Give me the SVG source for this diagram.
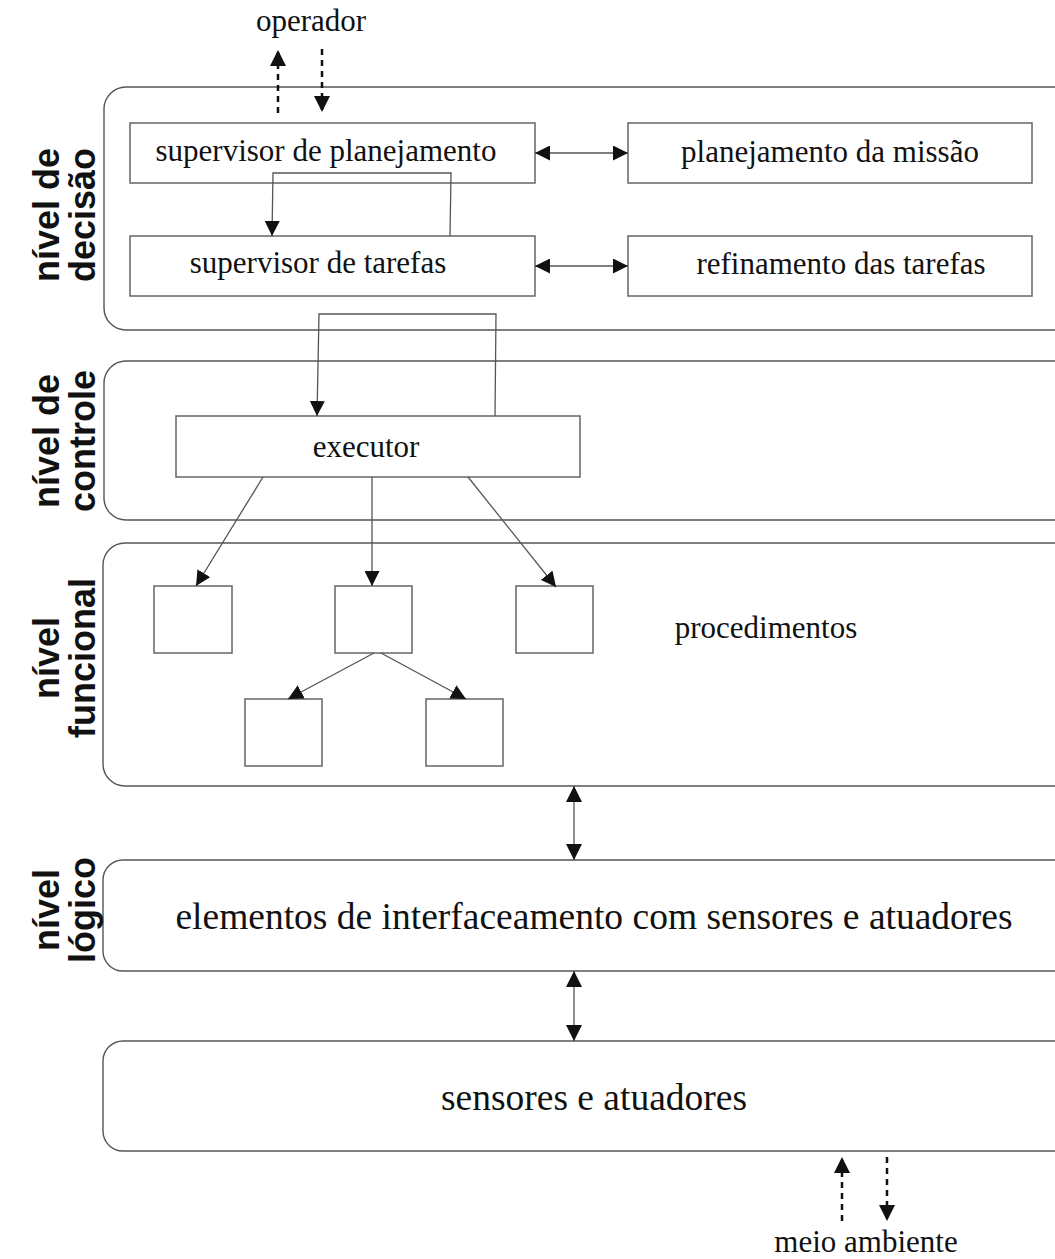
<svg xmlns="http://www.w3.org/2000/svg" width="1055" height="1259" viewBox="0 0 1055 1259">
  <style>
    .panel { fill: none; stroke: #555; stroke-width: 1.4; }
    .box { fill: #fff; stroke: #666; stroke-width: 1.5; }
    .lbl { font-family: "Liberation Serif", "Times New Roman", serif; font-size: 31px; fill: #111; text-anchor: middle; }
    .big { font-size: 37.5px; }
    .lvl { font-family: "Liberation Sans", Arial, sans-serif; font-weight: bold; font-size: 36px; fill: #111; text-anchor: middle; }
    .wire { fill: none; stroke: #555; stroke-width: 1.3; }
    .dash { fill: none; stroke: #111; stroke-width: 2.5; stroke-dasharray: 6 5; }
  </style>
  <defs>
    <marker id="head" viewBox="0 0 15 15" refX="15" refY="7.5" markerWidth="15" markerHeight="15" markerUnits="userSpaceOnUse" orient="auto-start-reverse">
      <path d="M0,0 L15,7.5 L0,15 Z" fill="#111"/>
    </marker>
    <marker id="headL" viewBox="0 0 16 16" refX="16" refY="8" markerWidth="16" markerHeight="16" markerUnits="userSpaceOnUse" orient="auto-start-reverse">
      <path d="M0,0 L16,8 L0,16 Z" fill="#111"/>
    </marker>
    <marker id="headD" viewBox="0 0 16 16" refX="16" refY="8" markerWidth="16" markerHeight="16" markerUnits="userSpaceOnUse" orient="auto">
      <path d="M0,0 L16,8 L0,16 Z" fill="#111"/>
    </marker>
  </defs>

  <rect width="1055" height="1259" fill="#fff"/>

  <!-- level panels -->
  <g id="panel-decisao">
    <rect class="panel" x="104" y="87" width="990" height="243" rx="22"/>
    <text class="lvl" transform="translate(59,215) rotate(-90)"><tspan x="0" y="0">nível de</tspan><tspan x="0" y="36">decisão</tspan></text>
  </g>
  <g id="panel-controle">
    <rect class="panel" x="104" y="361" width="990" height="159" rx="22"/>
    <text class="lvl" transform="translate(59,441) rotate(-90)"><tspan x="0" y="0">nível de</tspan><tspan x="0" y="36">controle</tspan></text>
  </g>
  <g id="panel-funcional">
    <rect class="panel" x="103" y="543" width="990" height="243" rx="22"/>
    <text class="lvl" transform="translate(59,658) rotate(-90)"><tspan x="0" y="0">nível</tspan><tspan x="0" y="36">funcional</tspan></text>
    <text class="lbl" x="766" y="638">procedimentos</text>
  </g>
  <g id="panel-logico">
    <rect class="panel" x="103" y="860" width="990" height="111" rx="20"/>
    <text class="lvl" transform="translate(59,910) rotate(-90)"><tspan x="0" y="0">nível</tspan><tspan x="0" y="36">lógico</tspan></text>
    <text class="lbl big" x="594" y="929">elementos de interfaceamento com sensores e atuadores</text>
  </g>
  <g id="panel-sensores">
    <rect class="panel" x="103" y="1041" width="990" height="110" rx="20"/>
    <text class="lbl big" x="594" y="1110">sensores e atuadores</text>
  </g>

  <!-- nodes -->
  <g id="supervisor-planejamento">
    <rect class="box" x="130" y="123" width="405" height="60"/>
    <text class="lbl" x="326" y="161">supervisor de planejamento</text>
  </g>
  <g id="planejamento-missao">
    <rect class="box" x="628" y="123" width="404" height="60"/>
    <text class="lbl" x="830" y="162">planejamento da missão</text>
  </g>
  <g id="supervisor-tarefas">
    <rect class="box" x="130" y="236" width="405" height="60"/>
    <text class="lbl" x="318" y="273">supervisor de tarefas</text>
  </g>
  <g id="refinamento-tarefas">
    <rect class="box" x="628" y="236" width="404" height="60"/>
    <text class="lbl" x="841" y="274">refinamento das tarefas</text>
  </g>
  <g id="executor">
    <rect class="box" x="176" y="416" width="404" height="61"/>
    <text class="lbl" x="366" y="457">executor</text>
  </g>
  <g id="proc-a"><rect class="box" x="154" y="586" width="78" height="67"/></g>
  <g id="proc-b"><rect class="box" x="335" y="586" width="77" height="67"/></g>
  <g id="proc-c"><rect class="box" x="516" y="586" width="77" height="67"/></g>
  <g id="proc-d"><rect class="box" x="245" y="699" width="77" height="67"/></g>
  <g id="proc-e"><rect class="box" x="426" y="699" width="77" height="67"/></g>

  <g id="operador">
    <text class="lbl" x="311" y="31">operador</text>
  </g>
  <g id="meio-ambiente">
    <text class="lbl" x="866" y="1252">meio ambiente</text>
  </g>

  <!-- connectors -->
  <g id="connectors">
    <line class="dash" x1="278" y1="113" x2="278" y2="50" marker-end="url(#headD)"/>
    <line class="dash" x1="322" y1="49" x2="322" y2="112" marker-end="url(#headD)"/>

    <line class="wire" x1="535" y1="153" x2="628" y2="153" marker-start="url(#head)" marker-end="url(#head)"/>
    <line class="wire" x1="535" y1="266" x2="628" y2="266" marker-start="url(#head)" marker-end="url(#head)"/>

    <polyline class="wire" points="450,236 451,173 273,173 272,236" marker-end="url(#head)"/>
    <polyline class="wire" points="495,416 496,314 319,314 317,416" marker-end="url(#head)"/>

    <line class="wire" x1="263" y1="477" x2="196" y2="586" marker-end="url(#head)"/>
    <line class="wire" x1="372" y1="477" x2="372" y2="586" marker-end="url(#head)"/>
    <line class="wire" x1="468" y1="477" x2="556" y2="587" marker-end="url(#head)"/>

    <line class="wire" x1="374" y1="653" x2="288" y2="699" marker-end="url(#head)"/>
    <line class="wire" x1="381" y1="653" x2="466" y2="699" marker-end="url(#head)"/>

    <line class="wire" x1="574" y1="786" x2="574" y2="860" marker-start="url(#headL)" marker-end="url(#headL)"/>
    <line class="wire" x1="574" y1="971" x2="574" y2="1041" marker-start="url(#headL)" marker-end="url(#headL)"/>

    <line class="dash" x1="842" y1="1221" x2="842" y2="1157" marker-end="url(#headD)"/>
    <line class="dash" x1="887" y1="1157" x2="887" y2="1221" marker-end="url(#headD)"/>
  </g>
</svg>
